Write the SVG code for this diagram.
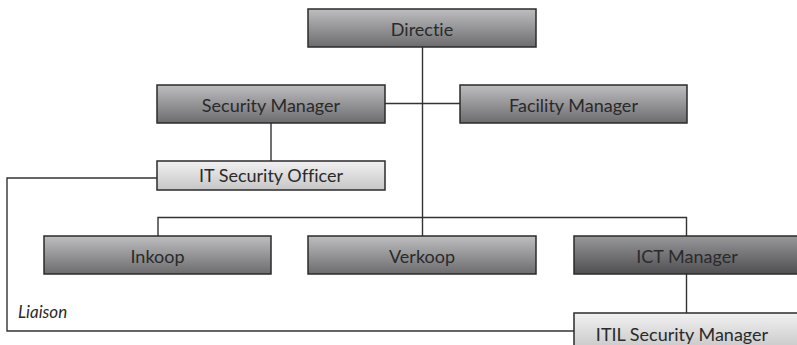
<svg xmlns="http://www.w3.org/2000/svg" width="797" height="345" viewBox="0 0 797 345">
  <defs>
    <linearGradient id="gMid" x1="0" y1="0" x2="0" y2="1">
      <stop offset="0" stop-color="#bebec1"/>
      <stop offset="1" stop-color="#6c6c6f"/>
    </linearGradient>
    <linearGradient id="gDark" x1="0" y1="0" x2="0" y2="1">
      <stop offset="0" stop-color="#98989b"/>
      <stop offset="1" stop-color="#4f4f52"/>
    </linearGradient>
    <linearGradient id="gLight" x1="0" y1="0" x2="0" y2="1">
      <stop offset="0" stop-color="#f1f1f1"/>
      <stop offset="1" stop-color="#c6c6c6"/>
    </linearGradient>
  </defs>
  <style>
    .box { stroke: #2b2b2b; stroke-width: 1.5; }
    .mid { fill: url(#gMid); }
    .dark { fill: url(#gDark); }
    .light { fill: url(#gLight); }
    .lbl { font-family: Lato, "Liberation Sans", sans-serif; font-size: 18px; fill: #2a2a2a; text-anchor: middle; font-variant-ligatures: none; font-feature-settings: "liga" 0, "clig" 0, "dlig" 0; }
    .note { font-family: Lato, "Liberation Sans", sans-serif; font-size: 17px; font-style: italic; fill: #2a2a2a; }
    .wire { fill: none; stroke: #333; stroke-width: 1.4; }
  </style>

  <!-- connectors -->
  <g id="connectors">
    <path class="wire" d="M422.5 47 V236"/>
    <path class="wire" d="M385 103.5 H460"/>
    <path class="wire" d="M271 123 V161"/>
    <path class="wire" d="M158 236 V217.5 H686.5 V236"/>
    <path class="wire" d="M686.5 274 V313"/>
    <path class="wire" d="M157 178 H7 V331 H574"/>
  </g>

  <g id="directie">
    <rect class="box mid" x="308" y="9" width="228" height="38"/>
    <text class="lbl" x="422" y="35.5">Directie</text>
  </g>
  <g id="security-manager">
    <rect class="box mid" x="157" y="85" width="228" height="38"/>
    <text class="lbl" x="271" y="111.5">Security Manager</text>
  </g>
  <g id="facility-manager">
    <rect class="box mid" x="460" y="85" width="227" height="38"/>
    <text class="lbl" x="573.5" y="111.5">Facility Manager</text>
  </g>
  <g id="it-security-officer">
    <rect class="box light" x="157" y="161" width="228" height="29"/>
    <text class="lbl" x="271" y="182">IT Security Officer</text>
  </g>
  <g id="inkoop">
    <rect class="box mid" x="44" y="236" width="227" height="38"/>
    <text class="lbl" x="157.5" y="262.5">Inkoop</text>
  </g>
  <g id="verkoop">
    <rect class="box mid" x="308" y="236" width="228" height="38"/>
    <text class="lbl" x="422" y="262.5">Verkoop</text>
  </g>
  <g id="ict-manager">
    <rect class="box dark" x="574" y="236" width="226" height="38"/>
    <text class="lbl" x="687" y="262.5">ICT Manager</text>
  </g>
  <g id="itil-security-manager">
    <rect class="box light" x="574" y="313" width="226" height="38"/>
    <text class="lbl" x="682" y="341">ITIL Security Manager</text>
  </g>
  <g id="liaison">
    <text class="note" x="18" y="318">Liaison</text>
  </g>
</svg>
